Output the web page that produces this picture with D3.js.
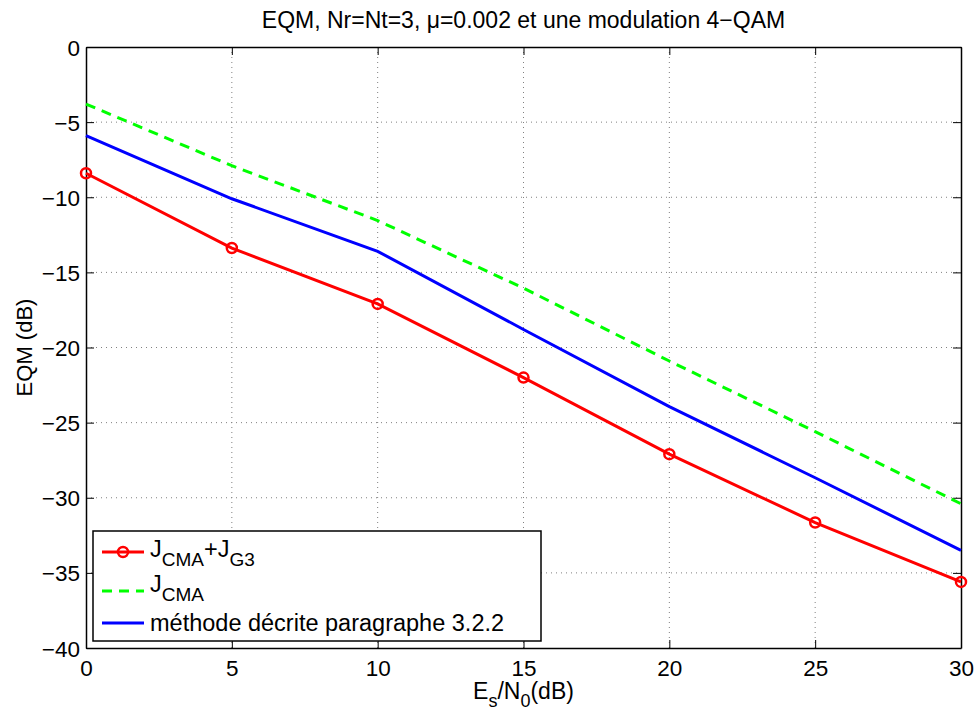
<!DOCTYPE html>
<html>
<head>
<meta charset="utf-8">
<script src="https://cdn.jsdelivr.net/npm/d3@7"></script>
<style>
  html, body { margin: 0; padding: 0; background: #fff; }
  svg { display: block; }
  text { font-family: "Liberation Sans", Arial, Helvetica, sans-serif; fill: #000; }
</style>
</head>
<body>
<svg id="chart" width="979" height="715"></svg>
<script>
// ---- data ----
const snr = [0, 5, 10, 15, 20, 25, 30];
const jcmaG3 = [-8.4, -13.38, -17.1, -22.0, -27.1, -31.65, -35.6];
const jcma = [-3.8, -7.9, -11.55, -16.05, -20.9, -25.6, -30.4];
const methode = [-5.9, -10.1, -13.6, -18.8, -23.93, -28.67, -33.5];
const xTicks = [0, 5, 10, 15, 20, 25, 30];
const yTicks = [0, -5, -10, -15, -20, -25, -30, -35, -40];

const svg = d3.select("#chart");
const W = 979, H = 715;
const m = {left: 86, right: 979 - 961, top: 47, bottom: 715 - 648};
const x = d3.scaleLinear().domain([0, 30]).range([m.left, W - m.right]);
const y = d3.scaleLinear().domain([-40, 0]).range([H - m.bottom, m.top]);
const fmt = d3.format("d");
const FS = 22.5;

// grid
const grid = svg.append("g");
xTicks.forEach(t => {
  if (t === 0 || t === 30) return;
  grid.append("line").attr("x1", x(t)).attr("x2", x(t)).attr("y1", y(-40)).attr("y2", y(0))
    .attr("stroke", "#808080").attr("stroke-width", 1).attr("stroke-dasharray", "1,4");
});
yTicks.forEach(t => {
  if (t === 0 || t === -40) return;
  grid.append("line").attr("x1", x(0)).attr("x2", x(30)).attr("y1", y(t)).attr("y2", y(t))
    .attr("stroke", "#808080").attr("stroke-width", 1).attr("stroke-dasharray", "1,4");
});

// axes
const gx = svg.append("g").attr("transform", `translate(0,${y(-40)})`)
  .call(d3.axisBottom(x).tickValues(xTicks).tickFormat(fmt).tickSizeInner(-8).tickSizeOuter(0).tickPadding(12));
const gxTop = svg.append("g").attr("transform", `translate(0,${y(0)})`)
  .call(d3.axisTop(x).tickValues(xTicks).tickFormat("").tickSizeInner(-8).tickSizeOuter(0));
const gy = svg.append("g").attr("transform", `translate(${x(0)},0)`)
  .call(d3.axisLeft(y).tickValues(yTicks).tickFormat(fmt).tickSizeInner(-8).tickSizeOuter(0).tickPadding(6));
const gyR = svg.append("g").attr("transform", `translate(${x(30)},0)`)
  .call(d3.axisRight(y).tickValues(yTicks).tickFormat("").tickSizeInner(-8).tickSizeOuter(0));
[gx, gxTop, gy, gyR].forEach(g => {
  g.selectAll(".domain").attr("stroke", "#000").attr("stroke-width", 1.5);
  g.selectAll(".tick line").attr("stroke", "#000").attr("stroke-width", 1);
  g.selectAll("text").attr("font-size", FS).attr("font-family", "Liberation Sans, Arial, sans-serif").attr("fill", "#000");
});
gy.selectAll("text").attr("dy", "0.36em");

// lines
const line = d3.line().x((d, i) => x(snr[i])).y(d => y(d));
const plot = svg.append("g");
plot.append("path").datum(jcma).attr("d", line).attr("fill", "none")
  .attr("stroke", "#00ff00").attr("stroke-width", 3).attr("stroke-dasharray", "10,7");
plot.append("path").datum(methode).attr("d", line).attr("fill", "none")
  .attr("stroke", "#0000ff").attr("stroke-width", 3);
plot.append("path").datum(jcmaG3).attr("d", line).attr("fill", "none")
  .attr("stroke", "#ff0000").attr("stroke-width", 3);
plot.selectAll("circle.m").data(jcmaG3).enter().append("circle")
  .attr("cx", (d, i) => x(snr[i])).attr("cy", d => y(d)).attr("r", 5)
  .attr("fill", "none").attr("stroke", "#ff0000").attr("stroke-width", 2.5);

// title
svg.append("text").attr("x", (x(0) + x(30)) / 2).attr("y", 28).attr("text-anchor", "middle")
  .attr("font-size", 23).text("EQM, Nr=Nt=3, \u03bc=0.002 et une modulation 4\u2212QAM");

// x label
const xl = svg.append("text").attr("x", (x(0) + x(30)) / 2).attr("y", 699).attr("text-anchor", "middle")
  .attr("font-size", 23);
xl.append("tspan").text("E");
xl.append("tspan").attr("font-size", 18).attr("dy", 8).text("s");
xl.append("tspan").attr("dy", -8).text("/N");
xl.append("tspan").attr("font-size", 18).attr("dy", 8).text("0");
xl.append("tspan").attr("dy", -8).text("(dB)");

// y label
svg.append("text").attr("transform", `translate(32,${(y(0) + y(-40)) / 2}) rotate(-90)`)
  .attr("text-anchor", "middle").attr("font-size", 22).text("EQM (dB)");

// legend
const lg = svg.append("g");
lg.append("rect").attr("x", 93).attr("y", 531).attr("width", 448).attr("height", 110)
  .attr("fill", "#fff").attr("stroke", "#000").attr("stroke-width", 1.5);
const lx1 = 102, lx2 = 144, tx = 150;
const rows = [552, 591, 623];
lg.append("line").attr("x1", lx1).attr("x2", lx2).attr("y1", rows[0]).attr("y2", rows[0])
  .attr("stroke", "#ff0000").attr("stroke-width", 3);
lg.append("circle").attr("cx", (lx1 + lx2) / 2).attr("cy", rows[0]).attr("r", 5)
  .attr("fill", "none").attr("stroke", "#ff0000").attr("stroke-width", 2.5);
lg.append("line").attr("x1", lx1).attr("x2", lx2).attr("y1", rows[1]).attr("y2", rows[1])
  .attr("stroke", "#00ff00").attr("stroke-width", 3).attr("stroke-dasharray", "10,7");
lg.append("line").attr("x1", lx1).attr("x2", lx2).attr("y1", rows[2]).attr("y2", rows[2])
  .attr("stroke", "#0000ff").attr("stroke-width", 3);

const t1 = lg.append("text").attr("x", tx).attr("y", rows[0] + 5).attr("font-size", 23.5);
t1.append("tspan").text("J");
t1.append("tspan").attr("font-size", 19).attr("dy", 9).text("CMA");
t1.append("tspan").attr("dy", -9).text("+J");
t1.append("tspan").attr("font-size", 19).attr("dy", 9).text("G3");
const t2 = lg.append("text").attr("x", tx).attr("y", rows[1] + 1).attr("font-size", 23.5);
t2.append("tspan").text("J");
t2.append("tspan").attr("font-size", 19).attr("dy", 9).text("CMA");
lg.append("text").attr("x", tx).attr("y", rows[2] + 8).attr("font-size", 23.5)
  .text("m\u00e9thode d\u00e9crite paragraphe 3.2.2");
</script>
</body>
</html>
